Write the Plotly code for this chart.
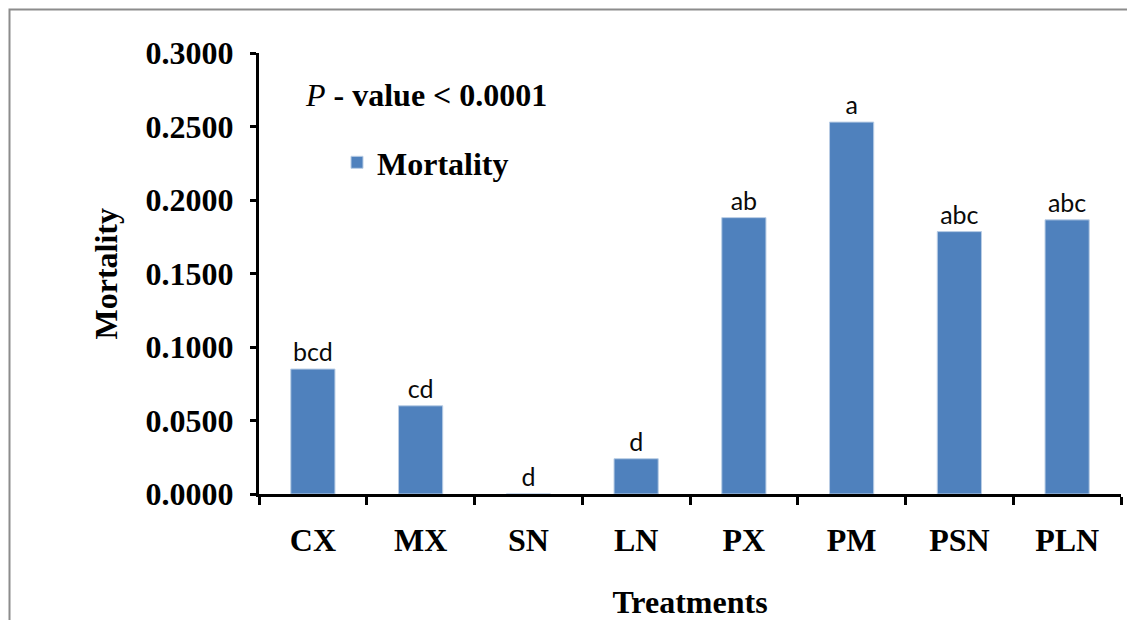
import plotly.graph_objects as go

categories = ["CX", "MX", "SN", "LN", "PX", "PM", "PSN", "PLN"]
mortality = [0.0850, 0.0600, 0.0000, 0.0240, 0.1880, 0.2530, 0.1785, 0.1865]
letters = ["bcd", "cd", "d", "d", "ab", "a", "abc", "abc"]
y_ticks = [0.0, 0.05, 0.10, 0.15, 0.20, 0.25, 0.30]
y_tick_labels = ["0.0000", "0.0500", "0.1000", "0.1500", "0.2000", "0.2500", "0.3000"]

# page body has an 8px margin; compensate so the picture lines up with the window
OFF = 8
W, H = 1135 - OFF, 620 - OFF
L, R, T, B = 259 - OFF, 14, 53 - OFF, 126
pw, ph = W - L - R, H - T - B

def px_x(p):
    return (p - OFF - L) / pw

def px_y(p):
    return (H - B - (p - OFF)) / ph

serif = "Liberation Serif, Times New Roman, serif"
FS = 32
bold_font = dict(family=serif, size=FS, color="black", weight="bold")

fig = go.Figure()
fig.add_trace(go.Bar(
    x=categories, y=mortality, name="Mortality",
    marker=dict(color="#4F81BD", line=dict(color="#B9CDE5", width=1)),
    text=letters, textposition="outside", cliponaxis=False,
    textfont=dict(family="Lato, Liberation Sans, sans-serif", size=25, color="#0a0a0a"),
))

fig.update_layout(
    width=W, height=H,
    margin=dict(l=L, r=R, t=T, b=B),
    paper_bgcolor="white", plot_bgcolor="white",
    bargap=0.59,
    showlegend=True,
    legend=dict(x=px_x(337), y=px_y(135), xanchor="left", yanchor="top",
                bgcolor="rgba(0,0,0,0)", font=bold_font),
    xaxis=dict(
        showline=True, linecolor="black", linewidth=3, automargin=False,
        ticks="outside", tickson="boundaries", ticklen=8, tickwidth=3, tickcolor="black",
        tickfont=bold_font, ticklabelstandoff=16,
        showgrid=False, zeroline=False,
        title=dict(text="Treatments", standoff=36, font=bold_font),
    ),
    yaxis=dict(
        range=[0, 0.3], tickvals=y_ticks, ticktext=y_tick_labels, automargin=False,
        showline=True, linecolor="black", linewidth=3,
        ticks="outside", ticklen=6, tickwidth=3, tickcolor="black",
        tickfont=bold_font, ticklabelstandoff=10,
        showgrid=False, zeroline=False,
    ),
)

fig.add_annotation(
    xref="paper", yref="paper", x=px_x(105), y=0.5,
    xanchor="center", yanchor="middle", textangle=-90, showarrow=False,
    text="Mortality", font=bold_font,
)

fig.add_annotation(
    xref="paper", yref="paper", x=px_x(303), y=px_y(95),
    xanchor="left", yanchor="middle", showarrow=False,
    text="<i>P</i> <b>- value &lt; 0.0001</b>",
    font=dict(family=serif, size=FS, color="black"),
)

# outer frame of the chart area (left and top edges visible)
fig.add_shape(
    type="rect", xref="paper", yref="paper", layer="below",
    x0=-L / pw + 1.5 / pw, x1=1.2, y0=-0.5, y1=(H - B - 1.5) / ph,
    line=dict(color="#8c8c8c", width=2), fillcolor="rgba(0,0,0,0)",
)

fig.write_html("out.html")
